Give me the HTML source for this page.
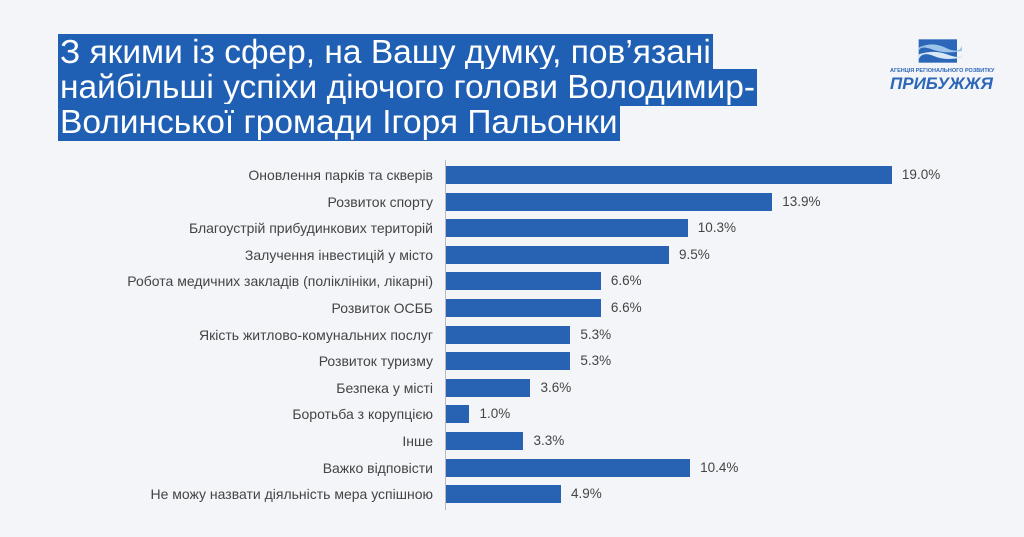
<!DOCTYPE html>
<html><head><meta charset="utf-8"><style>
body{margin:0;width:1024px;height:537px;background:#f3f5f9;overflow:hidden;font-family:"Liberation Sans","Noto Sans CJK SC",sans-serif;position:relative}
.t{position:absolute;left:58px;top:35px;font-size:33.5px;line-height:35px;color:#fff}
.t span{background:#1f5fb4;padding:0 2px;box-decoration-break:clone;-webkit-box-decoration-break:clone}
.axis{position:absolute;left:445px;top:160px;width:1px;height:350px;background:#bbb}
.lab{position:absolute;right:591px;font-size:14px;color:#444;white-space:nowrap;line-height:18px}
.bar{position:absolute;left:446px;height:18px;background:#2763b2}
.val{position:absolute;font-size:13.5px;color:#444;line-height:18px}
</style></head><body>
<div class="t"><span>З якими із сфер, на Вашу думку, пов’язані</span><br><span>найбільші успіхи діючого голови Володимир-</span><br><span>Волинської громади Ігоря Пальонки</span></div>
<svg style="position:absolute;left:912px;top:36px" width="50" height="30" viewBox="0 0 60 32">
<rect x="8" y="2" width="46" height="28" fill="#2b66b8"/>
<path d="M8 12 Q24 4 40 12 T60 10 L60 16 Q40 20 24 14 T8 18Z" fill="#9cc3ea"/>
<path d="M8 20 Q26 14 42 20 T60 20 L60 24 Q40 28 26 22 T8 26Z" fill="#d8e8f7"/>
</svg>
<div style="position:absolute;left:890px;top:68px;font-size:5.5px;color:#2b66b8;font-weight:bold">АГЕНЦІЯ РЕГІОНАЛЬНОГО РОЗВИТКУ</div>
<div style="position:absolute;left:890px;top:74px;font-size:17px;color:#2b66b8;font-weight:bold;font-style:italic">ПРИБУЖЖЯ</div>
<div class="axis"></div>
<div id="c"></div>
<script>
var d=[["Оновлення парків та скверів",19.0],["Розвиток спорту",13.9],["Благоустрій прибудинкових територій",10.3],["Залучення інвестицій у місто",9.5],["Робота медичних закладів (поліклініки, лікарні)",6.6],["Розвиток ОСББ",6.6],["Якість житлово-комунальних послуг",5.3],["Розвиток туризму",5.3],["Безпека у місті",3.6],["Боротьба з корупцією",1.0],["Інше",3.3],["Важко відповісти",10.4],["Не можу назвати діяльність мера успішною",4.9]];
var h="";d.forEach(function(r,i){var y=166+i*26.6,w=r[1]*23.47;
h+='<div class="lab" style="top:'+y+'px">'+r[0]+'</div><div class="bar" style="top:'+y+'px;width:'+w+'px"></div><div class="val" style="top:'+y+'px;left:'+(446+w+10)+'px">'+r[1].toFixed(1)+'%</div>';});
document.getElementById("c").innerHTML=h;
</script>
</body></html>
